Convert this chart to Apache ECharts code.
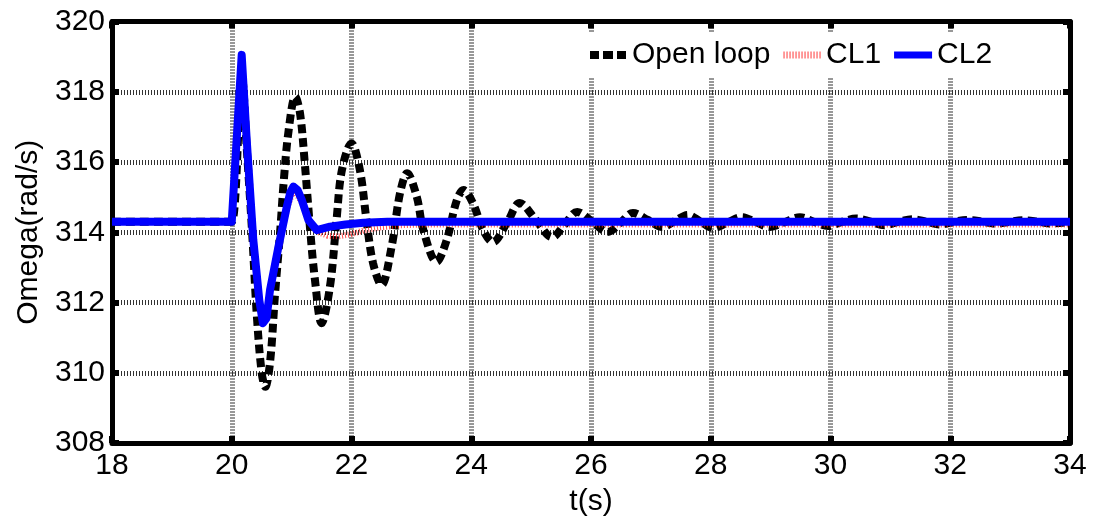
<!DOCTYPE html>
<html>
<head>
<meta charset="utf-8">
<script src="https://cdn.jsdelivr.net/npm/echarts@6/dist/echarts.min.js"></script>
<style>
  html, body { margin: 0; padding: 0; background: #fff; }
  #chart { width: 1098px; height: 525px; }
</style>
</head>
<body>
<div id="chart"></div>
<script>
// Axis ranges and tick spacing
const tRange = [18, 34, 2];
const omegaRange = [308, 320, 2];

// Open-loop rotor speed response (rad/s)
const tOpen = [18, 19.9, 20.0, 20.17, 20.25, 20.34, 20.42, 20.5, 20.56, 20.64, 20.72, 20.81, 20.87, 20.95, 21.06,
  21.14, 21.22, 21.31, 21.39, 21.5, 21.64, 21.75, 21.84, 22.0, 22.14, 22.25, 22.36, 22.5, 22.67, 22.81, 22.93,
  23.09, 23.2, 23.42, 23.59, 23.76, 23.87, 24.03, 24.2, 24.36, 24.6, 24.81, 25.08, 25.35, 25.56, 25.77, 26.02,
  26.28, 26.5, 26.7, 26.95, 27.19, 27.4, 27.62, 27.83, 28.04, 28.28, 28.52, 28.75, 28.99, 29.24, 29.49, 29.72,
  29.96, 30.2, 30.43, 30.67, 30.9, 31.14, 31.37, 31.6, 31.84, 32.07, 32.3, 32.54, 32.77, 33.0, 33.24, 33.47, 33.7, 34.0];
const wOpen = [314.3, 314.3, 314.3, 318.4, 316.4, 314.0, 311.6, 310.0, 309.6, 310.3, 312.17, 314.06, 315.49, 316.9, 317.86,
  317.39, 315.96, 314.06, 312.64, 311.41, 312.45, 314.35, 315.77, 316.53, 315.77, 314.35, 313.12, 312.5, 313.59, 315.11, 315.68,
  315.01, 314.06, 313.16, 313.78, 314.92, 315.2, 314.82, 314.06, 313.72, 314.28, 314.83, 314.35, 313.86, 314.22, 314.58, 314.3,
  314.01, 314.28, 314.55, 314.35, 314.15, 314.32, 314.49, 314.3, 314.12, 314.28, 314.43, 314.29, 314.15, 314.29, 314.43, 314.3,
  314.18, 314.3, 314.39, 314.3, 314.2, 314.3, 314.37, 314.3, 314.22, 314.3, 314.35, 314.3, 314.24, 314.3, 314.34, 314.3, 314.25, 314.3];

// Closed-loop response, controller 1
const tCL1 = [18, 20.0, 20.166, 20.25, 20.36, 20.46, 20.52, 20.58, 20.64, 20.78, 20.92, 21.03, 21.17, 21.3, 21.45,
  21.6, 21.78, 22.0, 22.2, 22.45, 22.8, 23.2, 34];
const wCL1 = [314.3, 314.3, 319.0, 316.7, 313.9, 312.15, 311.45, 311.6, 312.3, 313.5, 314.65, 315.22, 314.85, 314.3, 314.0,
  313.9, 313.88, 313.95, 314.05, 314.13, 314.2, 314.22, 314.22];

// Closed-loop response, controller 2
const tCL2 = [18, 20.0, 20.166, 20.25, 20.36, 20.46, 20.52, 20.58, 20.64, 20.78, 20.92, 20.98, 21.03, 21.1, 21.17,
  21.28, 21.42, 21.64, 21.9, 22.2, 22.6, 34];
const wCL2 = [314.3, 314.3, 319.05, 316.63, 313.78, 312.07, 311.41, 311.55, 312.36, 313.59, 314.73, 315.15, 315.3, 315.2, 314.92,
  314.35, 314.06, 314.16, 314.22, 314.27, 314.3, 314.3];

const seriesNames = ['Open loop', 'CL1', 'CL2'];

const pairs = (ts, vs) => ts.map((t, i) => [t, vs[i]]);
const FONT = 'Liberation Sans, Arial, sans-serif';

// Legend keys drawn as paths: dashed block, thin dotted bars, solid bar
const dashKey = 'path://M0,0h9v8h-9z M13,0h10v8h-10z M27,0h9v8h-9z';
let dotKey = 'path://';
for (let i = 0; i < 13; i++) dotKey += 'M' + (i * 3) + ',0.5h1.2v7h-1.2z ';
dotKey += 'M0,0h0.01v8h-0.01z';
const solidKey = 'path://M0,0.5h38v7h-38z M0,0h0.01v8h-0.01z';

const chart = echarts.init(document.getElementById('chart'), null, { renderer: 'canvas' });

const gridLine = { show: true, lineStyle: { color: '#333', width: 5, type: [1, 2] } };
const frameLine = { show: true, onZero: false, lineStyle: { color: '#000', width: 5 } };
const frameTick = { show: true, inside: true, length: 7, lineStyle: { color: '#000', width: 6 } };

chart.setOption({
  animation: false,
  backgroundColor: '#fff',
  grid: { left: 112, right: 28, top: 21.5, bottom: 82, containLabel: false },
  legend: {
    data: [
      { name: seriesNames[0], icon: dashKey, itemStyle: { color: '#000' } },
      { name: seriesNames[1], icon: dotKey, itemStyle: { color: '#ff5a5a' } },
      { name: seriesNames[2], icon: solidKey, itemStyle: { color: '#0000ff' } }
    ],
    left: 584,
    top: 32,
    itemWidth: 38,
    itemHeight: 8,
    itemGap: 13,
    padding: [8, 6],
    backgroundColor: '#fff',
    itemStyle: { borderWidth: 0 },
    textStyle: { fontSize: 30, color: '#000', fontFamily: FONT }
  },
  xAxis: [
    {
      type: 'value', position: 'bottom',
      min: tRange[0], max: tRange[1], interval: tRange[2],
      name: 't(s)', nameLocation: 'middle', nameGap: 44,
      nameTextStyle: { fontSize: 30, color: '#000', fontFamily: FONT },
      axisLine: frameLine, axisTick: frameTick,
      axisLabel: { fontSize: 30, color: '#000', fontFamily: FONT, margin: 8 },
      splitLine: gridLine
    },
    {
      type: 'value', position: 'top',
      min: tRange[0], max: tRange[1], interval: tRange[2],
      axisLine: frameLine, axisTick: frameTick,
      axisLabel: { show: false }, splitLine: { show: false }
    }
  ],
  yAxis: [
    {
      type: 'value', position: 'left',
      min: omegaRange[0], max: omegaRange[1], interval: omegaRange[2],
      name: 'Omega(rad/s)', nameLocation: 'middle', nameGap: 66,
      nameTextStyle: { fontSize: 30, color: '#000', fontFamily: FONT },
      axisLine: frameLine, axisTick: frameTick,
      axisLabel: { fontSize: 30, color: '#000', fontFamily: FONT, margin: 7 },
      splitLine: gridLine
    },
    {
      type: 'value', position: 'right',
      min: omegaRange[0], max: omegaRange[1], interval: omegaRange[2],
      axisLine: frameLine, axisTick: frameTick,
      axisLabel: { show: false }, splitLine: { show: false }
    }
  ],
  series: [
    {
      name: seriesNames[0], type: 'line', xAxisIndex: 0, yAxisIndex: 0,
      data: pairs(tOpen, wOpen), smooth: 0.35, showSymbol: false, symbol: 'none', clip: true,
      lineStyle: { color: '#000', width: 8, type: [9, 5], cap: 'butt' },
      itemStyle: { color: '#000' }
    },
    {
      name: seriesNames[1], type: 'line', xAxisIndex: 0, yAxisIndex: 0,
      data: pairs(tCL1, wCL1), smooth: false, showSymbol: false, symbol: 'none', clip: true,
      lineStyle: { color: '#ff2020', width: 6, type: [1, 2], opacity: 0.8 },
      itemStyle: { color: '#ff2020' }
    },
    {
      name: seriesNames[2], type: 'line', xAxisIndex: 0, yAxisIndex: 0,
      data: pairs(tCL2, wCL2), smooth: false, showSymbol: false, symbol: 'none', clip: true,
      lineStyle: { color: '#0000ff', width: 8, join: 'round' },
      itemStyle: { color: '#0000ff' }
    }
  ]
});
</script>
</body>
</html>
